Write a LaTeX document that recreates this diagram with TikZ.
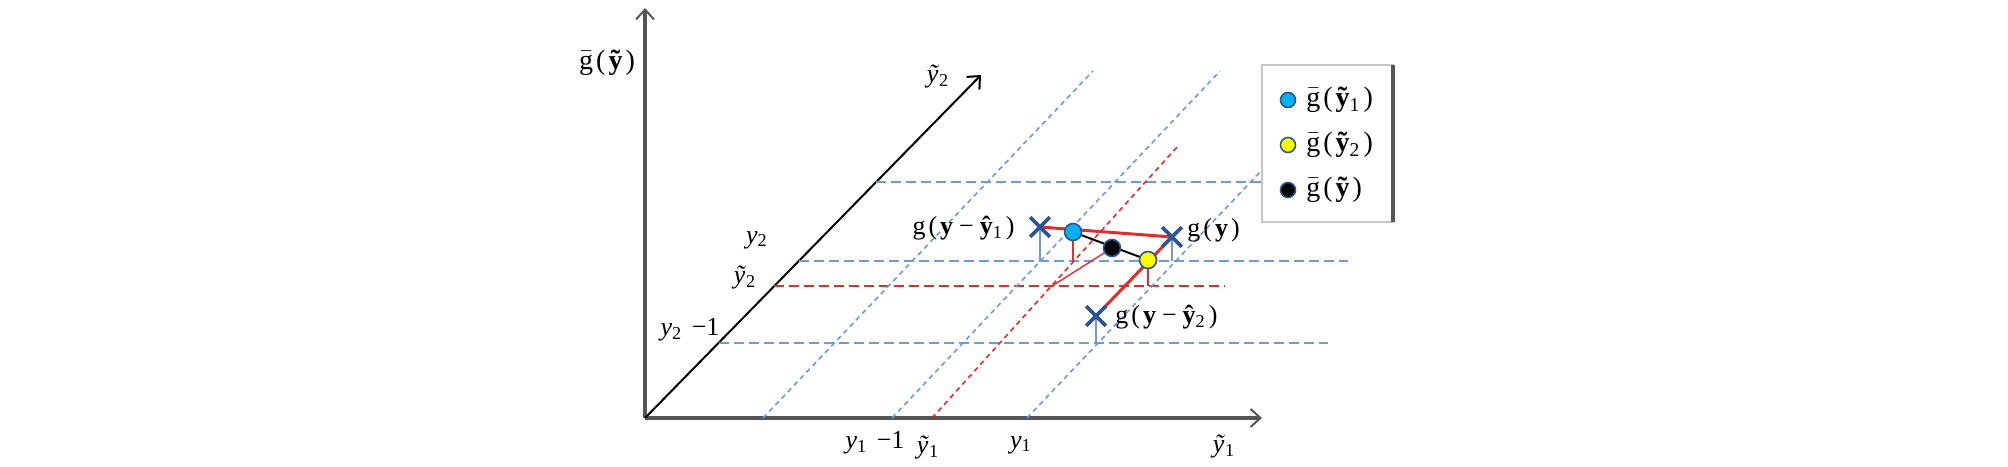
\documentclass[tikz,border=0pt]{standalone}
\usepackage{fontspec}
\setmainfont{Liberation Serif}
\usetikzlibrary{arrows.meta,shapes.misc}

\definecolor{colAsse}{RGB}{85,85,85}
\definecolor{colGriglia}{RGB}{110,155,215}
\definecolor{colRosso}{RGB}{222,45,45}
\definecolor{colBlu}{RGB}{45,85,145}
\definecolor{colCiano}{RGB}{0,176,240}
\definecolor{colGiallo}{RGB}{255,255,0}

\newcommand{\kk}{\kern1.5pt}
\newcommand{\mm}{\kern3pt−\kern3pt}
\newcommand{\gb}{\ensuremath{\bar{\textrm{g}}}}

\begin{document}
\begin{tikzpicture}[x=0.5pt,y=-0.5pt,
    asse/.style={line width=1.6pt,draw=colAsse,-{Straight Barb[length=5pt,width=9pt,line width=1pt]}},
    griglia/.style={draw=colGriglia,line width=0.9pt,dash pattern=on 5pt off 2.5pt},
    grigliaR/.style={draw=colRosso,line width=0.9pt,dash pattern=on 5pt off 2.5pt},
    diag/.style={draw=colGriglia,line width=0.8pt,dash pattern=on 2.5pt off 2pt},
    diagR/.style={draw=colRosso,line width=0.8pt,dash pattern=on 2.5pt off 2pt},
    croce/.style={cross out,draw=colBlu,line width=1.8pt,minimum size=8pt,inner sep=0pt},
    punto/.style={circle,draw=colBlu,line width=0.8pt,minimum size=8.5pt,inner sep=0pt},
    stelo/.style={draw=colGriglia,line width=0.7pt},
    steloR/.style={draw=colRosso,line width=0.7pt},
    etic/.style={font=\fontsize{13}{15}\selectfont,inner sep=1pt},
    eticA/.style={font=\fontsize{13}{15}\selectfont,inner sep=1pt},
    eticL/.style={font=\fontsize{14}{16}\selectfont,inner sep=1pt}]
\useasboundingbox (0,0) rectangle (2008,466);

% Assi
\coordinate (O) at (645,418);
\coordinate (Gtop) at (645,8);
\coordinate (Y1top) at (1262,418);
\coordinate (Y2top) at (981,75);
\draw[asse] (O) -- (Gtop);
\draw[asse] (O) -- (Y1top);
\draw[line width=1pt,-{Straight Barb[length=5pt,width=9pt,line width=1pt]}] (O) -- (Y2top);

% Griglia orizzontale
\draw[griglia] (876,182) -- (1262,182);
\draw[griglia] (799,261) -- (1348,261);
\draw[grigliaR] (774,286) -- (1225,286);
\draw[griglia] (719,343) -- (1328,343);

% Griglia diagonale
\draw[diag] (763,418) -- (1093,71);
\draw[diag] (892,418) -- (1220,71);
\draw[diagR] (932,418) -- (1178,146);
\draw[diag] (1027,418) -- (1262,170);

% Punti
\coordinate (X1) at (1040,227);
\coordinate (Xy) at (1172,237);
\coordinate (X2) at (1096,316);
\coordinate (P1) at (1073,232);
\coordinate (P2) at (1148,260);
\coordinate (Pm) at (1112,248);
\coordinate (R) at (1052,286);

% Steli
\draw[stelo] (X1) -- (1040,261);
\draw[stelo] (Xy) -- (1172,261);
\draw[stelo] (X2) -- (1096,343);
\draw[steloR] (P1) -- (1073,261);
\draw[steloR] (P2) -- (1148,286);
\draw[steloR] (R) -- (Pm);

% Segmenti
\draw[colRosso,line width=1.5pt] (X1) -- (Xy) -- (X2);
\draw[black,line width=1pt] (P1) -- (P2);

\node[croce] (x1) at (X1) {};
\node[croce] (xy) at (Xy) {};
\node[croce] (x2) at (X2) {};
\node[punto,fill=colCiano] (p1) at (P1) {};
\node[punto,fill=colGiallo] (p2) at (P2) {};
\node[punto,fill=black] (pm) at (Pm) {};

% Etichette
\node[etic,anchor=east] (lx1) at (1017,228) {g\kk(\kk\textbf{y}\mm\textbf{ŷ}\textsubscript{1}\kk)};
\node[etic,anchor=west] (lxy) at (1185,230) {g\kk(\kk\textbf{y}\kk)};
\node[etic,anchor=west] (lx2) at (1113,317) {g\kk(\kk\textbf{y}\mm\textbf{ŷ}\textsubscript{2}\kk)};

\node[eticL] (lg) at (607,63) {\gb\kk(\kk\textbf{ỹ}\kk)};
\node[eticA] (ly2t) at (938,77) {\textit{ỹ}\textsubscript{2}};
\node[eticA] (ly2) at (757,240) {\textit{y}\textsubscript{2}};
\node[eticA] (lt2) at (745,278) {\textit{ỹ}\textsubscript{2}};
\node[eticA] (ly2m) at (690,330) {\textit{y}\textsubscript{2}\kk\ −1};
\node[eticA] (ly1m) at (875,443) {\textit{y}\textsubscript{1}\kk\ −1};
\node[eticA] (lt1) at (928,448) {\textit{ỹ}\textsubscript{1}};
\node[eticA] (ly1) at (1021,445) {\textit{y}\textsubscript{1}};
\node[eticA] (lt1a) at (1224,447) {\textit{ỹ}\textsubscript{1}};

% Legenda
\draw[draw=gray!45,fill=white,line width=0.6pt] (1262,65) rectangle (1393,222);
\draw[colAsse,line width=1.6pt] (1393,65) -- (1393,222);
\node[punto,fill=colCiano,minimum size=7.5pt] (l1) at (1288,100) {};
\node[punto,fill=colGiallo,minimum size=7.5pt] (l2) at (1288,145) {};
\node[punto,fill=black,minimum size=7.5pt] (l3) at (1288,190) {};
\node[eticL,anchor=west] (t1) at (1304,100) {\gb\kk(\kk\textbf{ỹ}\textsubscript{1}\kk)};
\node[eticL,anchor=west] (t2) at (1304,145) {\gb\kk(\kk\textbf{ỹ}\textsubscript{2}\kk)};
\node[eticL,anchor=west] (t3) at (1304,190) {\gb\kk(\kk\textbf{ỹ}\kk)};
\end{tikzpicture}
\end{document}
